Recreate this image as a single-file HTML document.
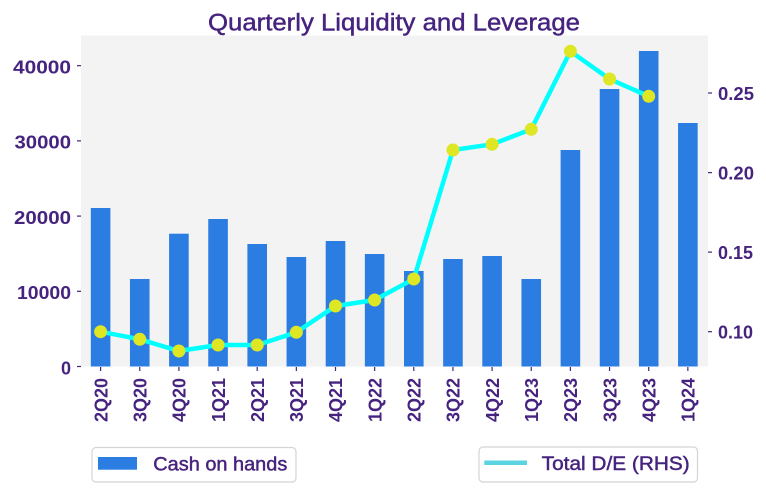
<!DOCTYPE html>
<html>
<head>
<meta charset="utf-8">
<style>
  html, body { margin: 0; padding: 0; background: #ffffff; }
  svg { display: block; }
  text { font-family: "Liberation Sans", "DejaVu Sans", sans-serif; fill: #46237f; }
  .med { stroke: #46237f; stroke-width: 0.45; }
</style>
</head>
<body>
<svg width="766" height="492" viewBox="0 0 766 492" xmlns="http://www.w3.org/2000/svg">
  <!-- plot background -->
  <rect x="81" y="35.5" width="627" height="331" fill="#f3f3f3"/>

  <!-- bars -->
  <g fill="#2b7de1">
    <rect x="90.8"  y="208"   width="19.6" height="158.5"/>
    <rect x="129.95" y="279"  width="19.6" height="87.5"/>
    <rect x="169.1" y="233.7" width="19.6" height="132.8"/>
    <rect x="208.25" y="219"  width="19.6" height="147.5"/>
    <rect x="247.4" y="244"   width="19.6" height="122.5"/>
    <rect x="286.55" y="257"  width="19.6" height="109.5"/>
    <rect x="325.7" y="241"   width="19.6" height="125.5"/>
    <rect x="364.85" y="254"  width="19.6" height="112.5"/>
    <rect x="404.0" y="271"   width="19.6" height="95.5"/>
    <rect x="443.15" y="259"  width="19.6" height="107.5"/>
    <rect x="482.3" y="256"   width="19.6" height="110.5"/>
    <rect x="521.45" y="279"  width="19.6" height="87.5"/>
    <rect x="560.6" y="150"   width="19.6" height="216.5"/>
    <rect x="599.75" y="89"   width="19.6" height="277.5"/>
    <rect x="638.9" y="51"    width="19.6" height="315.5"/>
    <rect x="678.05" y="123"  width="19.6" height="243.5"/>
  </g>

  <!-- line -->
  <polyline fill="none" stroke="#00ffff" stroke-width="4.5" stroke-linejoin="round"
    points="100.6,331.7 139.75,339.3 178.9,351 218.05,345 257.2,345 296.35,332.3 335.5,306 374.65,300 413.8,279 452.95,150 492.1,144.3 531.25,129.3 570.4,51.3 609.55,79 648.7,96.3"/>
  <g fill="#dfe623">
    <circle cx="100.6" cy="331.7" r="6.5"/>
    <circle cx="139.75" cy="339.3" r="6.5"/>
    <circle cx="178.9" cy="351" r="6.5"/>
    <circle cx="218.05" cy="345" r="6.5"/>
    <circle cx="257.2" cy="345" r="6.5"/>
    <circle cx="296.35" cy="332.3" r="6.5"/>
    <circle cx="335.5" cy="306" r="6.5"/>
    <circle cx="374.65" cy="300" r="6.5"/>
    <circle cx="413.8" cy="279" r="6.5"/>
    <circle cx="452.95" cy="150" r="6.5"/>
    <circle cx="492.1" cy="144.3" r="6.5"/>
    <circle cx="531.25" cy="129.3" r="6.5"/>
    <circle cx="570.4" cy="51.3" r="6.5"/>
    <circle cx="609.55" cy="79" r="6.5"/>
    <circle cx="648.7" cy="96.3" r="6.5"/>
  </g>

  <!-- title -->
  <text class="med" x="394" y="30.5" text-anchor="middle" font-size="24" textLength="372" lengthAdjust="spacingAndGlyphs">Quarterly Liquidity and Leverage</text>

  <!-- left axis ticks -->
  <g stroke="#46237f" stroke-width="1.2">
    <line x1="77" y1="65.7" x2="81" y2="65.7"/>
    <line x1="77" y1="140.9" x2="81" y2="140.9"/>
    <line x1="77" y1="216.1" x2="81" y2="216.1"/>
    <line x1="77" y1="291.3" x2="81" y2="291.3"/>
    <line x1="77" y1="366.5" x2="81" y2="366.5"/>
  </g>
  <g font-size="18" font-weight="bold" text-anchor="end">
    <text x="71" y="73.5" textLength="58" lengthAdjust="spacingAndGlyphs">40000</text>
    <text x="71" y="148.7" textLength="56.5" lengthAdjust="spacingAndGlyphs">30000</text>
    <text x="71" y="223.9" textLength="57" lengthAdjust="spacingAndGlyphs">20000</text>
    <text x="71" y="299.1" textLength="54" lengthAdjust="spacingAndGlyphs">10000</text>
    <text x="71" y="374.3">0</text>
  </g>

  <!-- right axis ticks -->
  <g stroke="#46237f" stroke-width="1.2">
    <line x1="708" y1="93" x2="712" y2="93"/>
    <line x1="708" y1="172.6" x2="712" y2="172.6"/>
    <line x1="708" y1="252.1" x2="712" y2="252.1"/>
    <line x1="708" y1="331.7" x2="712" y2="331.7"/>
  </g>
  <g font-size="18" font-weight="bold" text-anchor="start">
    <text x="718" y="100" textLength="36" lengthAdjust="spacingAndGlyphs">0.25</text>
    <text x="718" y="179.6" textLength="36" lengthAdjust="spacingAndGlyphs">0.20</text>
    <text x="718" y="259.1" textLength="35" lengthAdjust="spacingAndGlyphs">0.15</text>
    <text x="718" y="338.7" textLength="35" lengthAdjust="spacingAndGlyphs">0.10</text>
  </g>

  <!-- x ticks -->
  <g stroke="#46237f" stroke-width="1.2">
    <line x1="100.6" y1="367" x2="100.6" y2="371"/>
    <line x1="139.75" y1="367" x2="139.75" y2="371"/>
    <line x1="178.9" y1="367" x2="178.9" y2="371"/>
    <line x1="218.05" y1="367" x2="218.05" y2="371"/>
    <line x1="257.2" y1="367" x2="257.2" y2="371"/>
    <line x1="296.35" y1="367" x2="296.35" y2="371"/>
    <line x1="335.5" y1="367" x2="335.5" y2="371"/>
    <line x1="374.65" y1="367" x2="374.65" y2="371"/>
    <line x1="413.8" y1="367" x2="413.8" y2="371"/>
    <line x1="452.95" y1="367" x2="452.95" y2="371"/>
    <line x1="492.1" y1="367" x2="492.1" y2="371"/>
    <line x1="531.25" y1="367" x2="531.25" y2="371"/>
    <line x1="570.4" y1="367" x2="570.4" y2="371"/>
    <line x1="609.55" y1="367" x2="609.55" y2="371"/>
    <line x1="648.7" y1="367" x2="648.7" y2="371"/>
    <line x1="687.85" y1="367" x2="687.85" y2="371"/>
  </g>
  <g font-size="18" font-weight="bold" text-anchor="end">
    <text transform="translate(107.3,378) rotate(-90)">2Q20</text>
    <text transform="translate(146.45,378) rotate(-90)">3Q20</text>
    <text transform="translate(185.6,378) rotate(-90)">4Q20</text>
    <text transform="translate(224.75,378) rotate(-90)">1Q21</text>
    <text transform="translate(263.9,378) rotate(-90)">2Q21</text>
    <text transform="translate(303.05,378) rotate(-90)">3Q21</text>
    <text transform="translate(342.2,378) rotate(-90)">4Q21</text>
    <text transform="translate(381.35,378) rotate(-90)">1Q22</text>
    <text transform="translate(420.5,378) rotate(-90)">2Q22</text>
    <text transform="translate(459.65,378) rotate(-90)">3Q22</text>
    <text transform="translate(498.8,378) rotate(-90)">4Q22</text>
    <text transform="translate(537.95,378) rotate(-90)">1Q23</text>
    <text transform="translate(577.1,378) rotate(-90)">2Q23</text>
    <text transform="translate(616.25,378) rotate(-90)">3Q23</text>
    <text transform="translate(655.4,378) rotate(-90)">4Q23</text>
    <text transform="translate(694.55,378) rotate(-90)">1Q24</text>
  </g>

  <!-- legends -->
  <rect x="92" y="447.5" width="204" height="34.5" rx="4" ry="4" fill="#ffffff" stroke="#d4d4d4" stroke-width="1.2"/>
  <rect x="98" y="457" width="39" height="12.7" fill="#2b7de1"/>
  <text class="med" x="153.3" y="470.5" font-size="19" textLength="134" lengthAdjust="spacingAndGlyphs">Cash on hands</text>

  <rect x="479" y="447" width="218.5" height="35" rx="4" ry="4" fill="#ffffff" stroke="#d4d4d4" stroke-width="1.2"/>
  <line x1="484.3" y1="462.7" x2="527" y2="462.7" stroke="#5ad4e0" stroke-width="4.5"/>
  <text class="med" x="541.7" y="470" font-size="19" textLength="148" lengthAdjust="spacingAndGlyphs">Total D/E (RHS)</text>
</svg>
</body>
</html>
